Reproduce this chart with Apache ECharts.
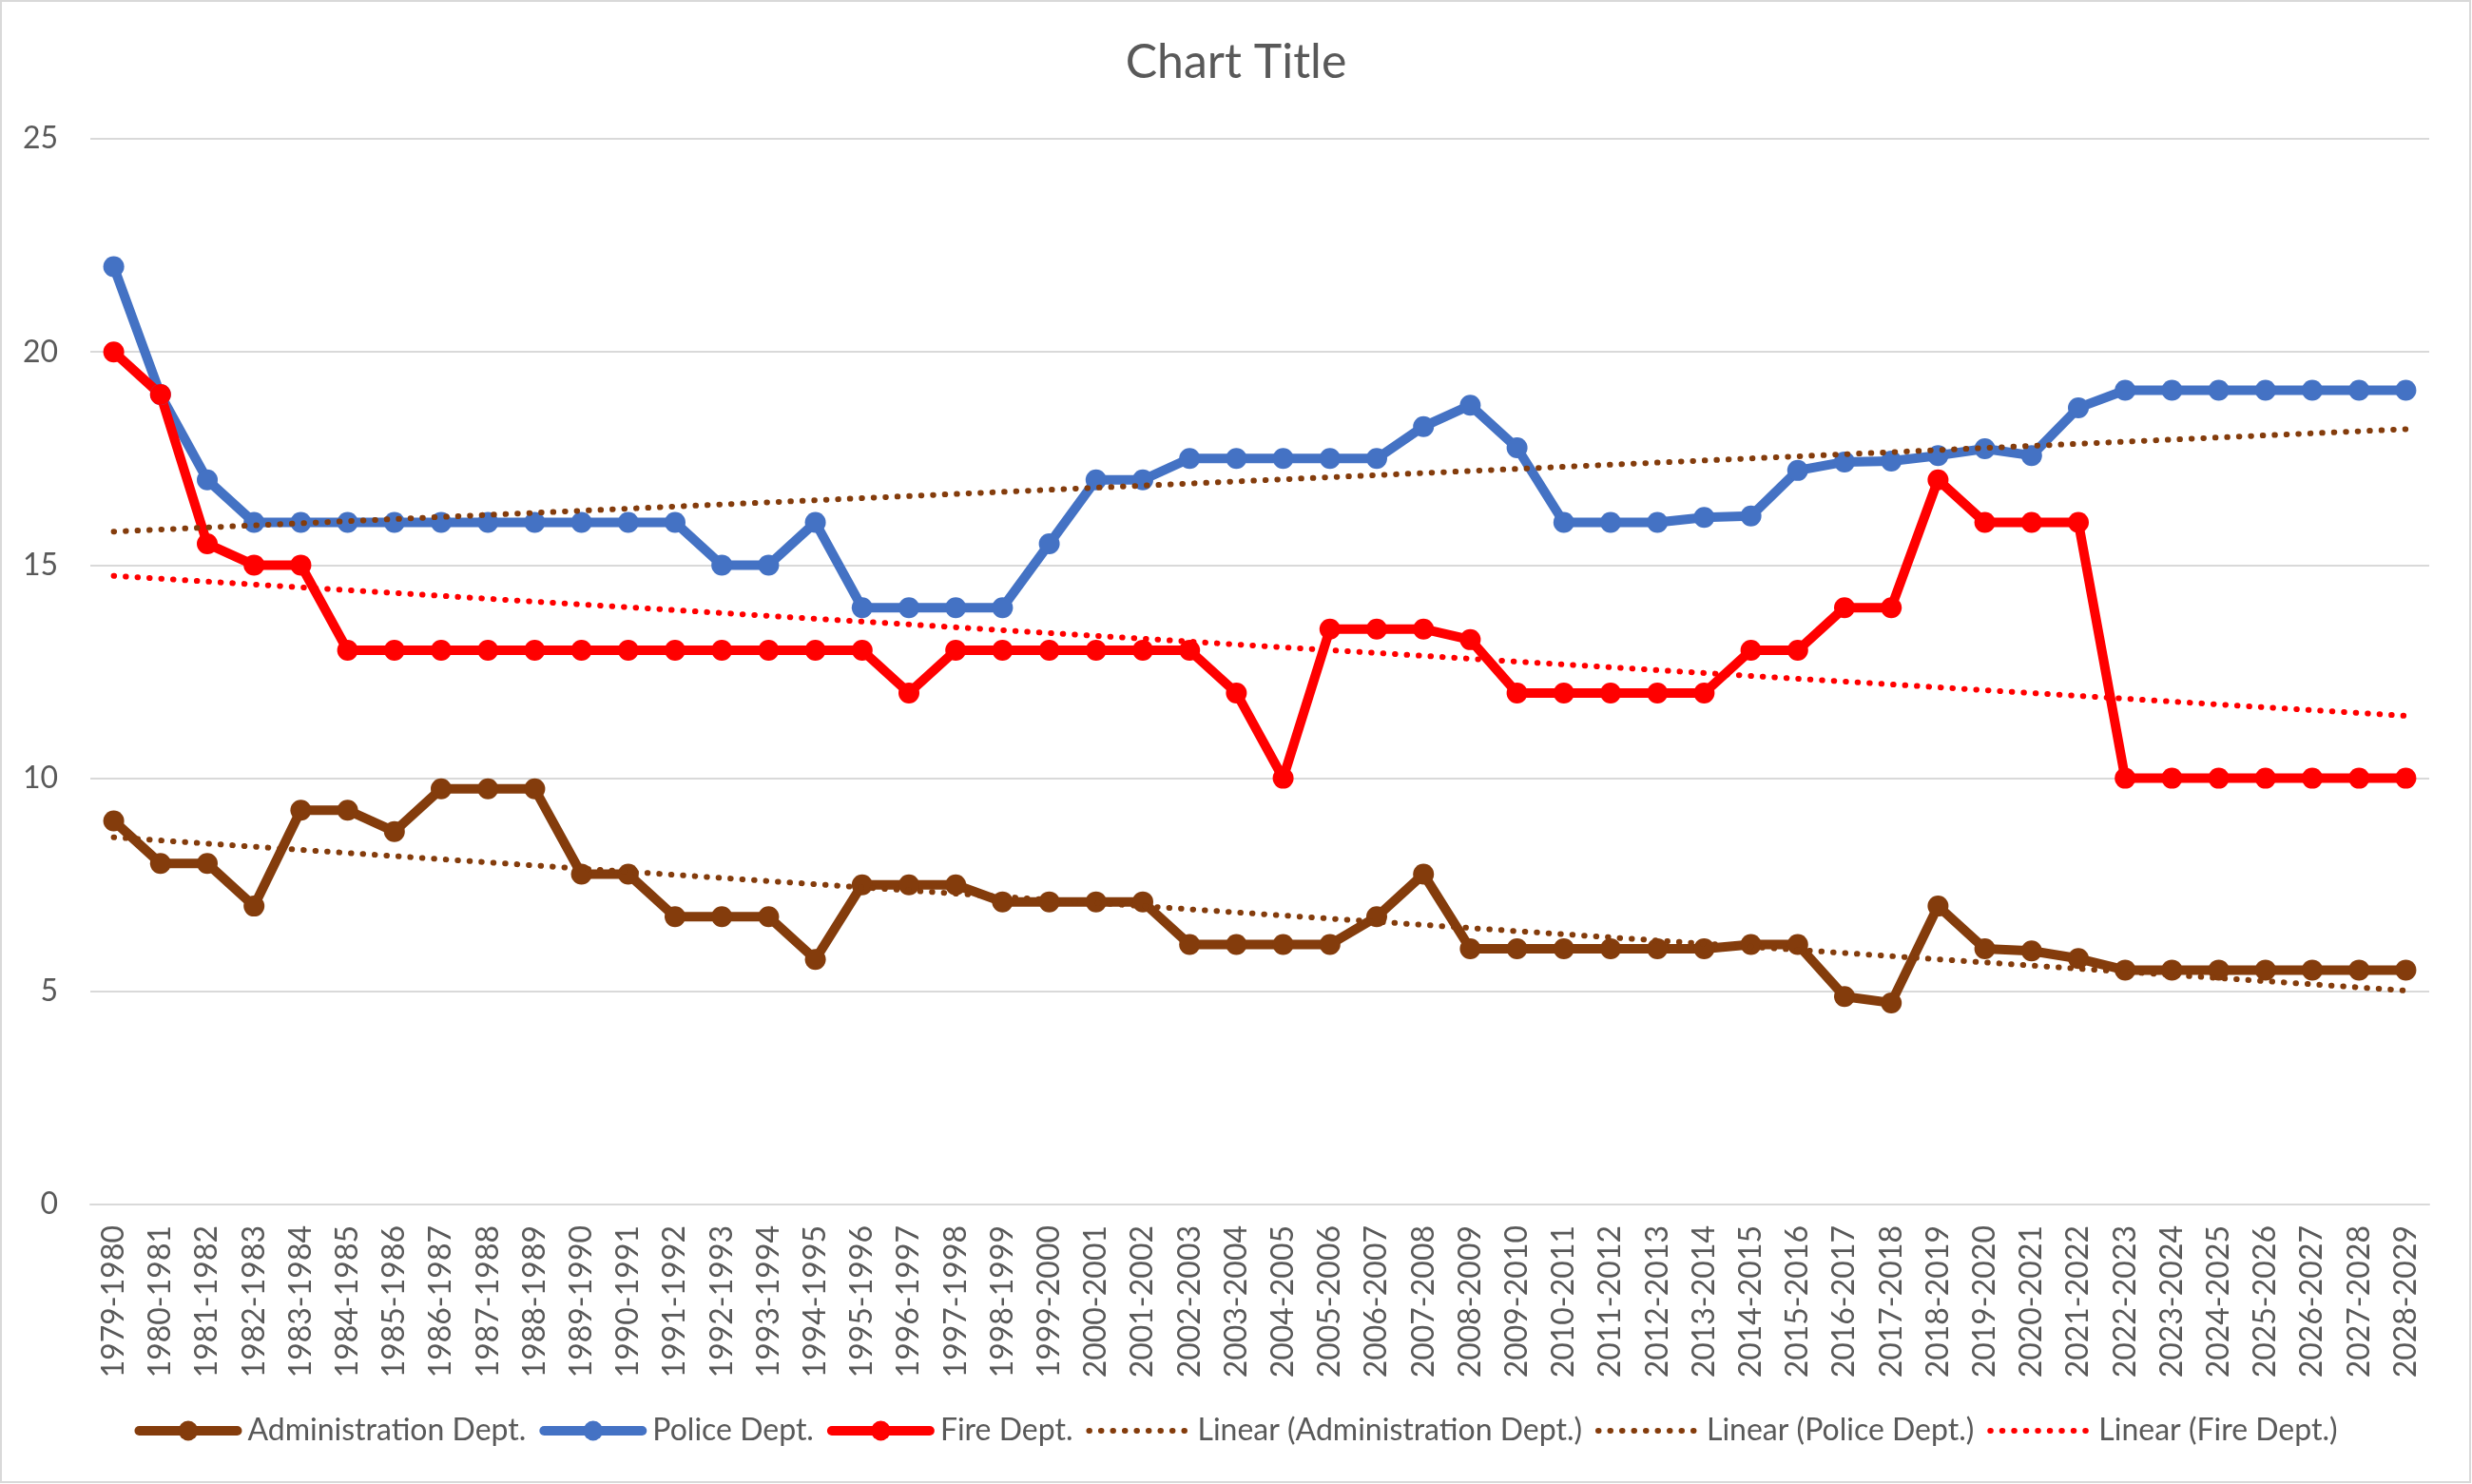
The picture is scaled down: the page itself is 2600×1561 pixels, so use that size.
<!DOCTYPE html>
<html>
<head>
<meta charset="utf-8">
<script src="https://cdn.jsdelivr.net/npm/echarts@6/dist/echarts.min.js"></script>
<style>
html,body{margin:0;padding:0;background:#fff;}
#chart{width:2600px;height:1561px;}
</style>
</head>
<body>
<div id="chart"></div>
<script>
const categories = ["1979-1980","1980-1981","1981-1982","1982-1983","1983-1984","1984-1985","1985-1986","1986-1987","1987-1988","1988-1989","1989-1990","1990-1991","1991-1992","1992-1993","1993-1994","1994-1995","1995-1996","1996-1997","1997-1998","1998-1999","1999-2000","2000-2001","2001-2002","2002-2003","2003-2004","2004-2005","2005-2006","2006-2007","2007-2008","2008-2009","2009-2010","2010-2011","2011-2012","2012-2013","2013-2014","2014-2015","2015-2016","2016-2017","2017-2018","2018-2019","2019-2020","2020-2021","2021-2022","2022-2023","2023-2024","2024-2025","2025-2026","2026-2027","2027-2028","2028-2029"];

const adminValues = [9,8,8,7,9.25,9.25,8.75,9.75,9.75,9.75,7.75,7.75,6.75,6.75,6.75,5.75,7.5,7.5,7.5,7.1,7.1,7.1,7.1,6.1,6.1,6.1,6.1,6.75,7.75,6,6,6,6,6,6,6.1,6.1,4.88,4.73,7,6,5.95,5.77,5.5,5.5,5.5,5.5,5.5,5.5,5.5];

const policeValues = [22,19,17,16,16,16,16,16,16,16,16,16,16,15,15,16,14,14,14,14,15.5,17,17,17.5,17.5,17.5,17.5,17.5,18.25,18.75,17.75,16,16,16,16.12,16.15,17.22,17.42,17.44,17.57,17.73,17.57,18.69,19.1,19.1,19.1,19.1,19.1,19.1,19.1];

const fireValues = [20,19,15.5,15,15,13,13,13,13,13,13,13,13,13,13,13,13,12,13,13,13,13,13,13,12,10,13.5,13.5,13.5,13.25,12,12,12,12,12,13,13,14,14,17,16,16,16,10,10,10,10,10,10,10];

const yTicks = {min: 0, max: 25, interval: 5};

const seriesNames = ["Administration Dept.","Police Dept.","Fire Dept.","Linear (Administration Dept.)","Linear (Police Dept.)","Linear (Fire Dept.)"];

function linearTrend(vals){
  const n = vals.length;
  let sx=0, sy=0, sxy=0, sxx=0;
  for(let i=0;i<n;i++){ const x=i+1; sx+=x; sy+=vals[i]; sxy+=x*vals[i]; sxx+=x*x; }
  const b = (n*sxy - sx*sy)/(n*sxx - sx*sx);
  const a = (sy - b*sx)/n;
  return vals.map((v,i)=> +(a + b*(i+1)).toFixed(4));
}

const BROWN = '#843C0C', BLUE = '#4472C4', RED = '#FF0000';
const FONT = 'Lato';
const TXT = '#595959';
const DOTS = [0.5,12];

function mainSeries(name, data, color){
  return {
    name, type:'line', data,
    symbol:'circle', symbolSize:22,
    itemStyle:{color},
    lineStyle:{color, width:10, cap:'round', join:'round'},
    emphasis:{disabled:true},
    animation:false
  };
}
function trendSeries(name, data, color){
  return {
    name, type:'line', data,
    symbol:'none', showSymbol:false,
    itemStyle:{color},
    lineStyle:{color, width:6, type:DOTS, cap:'round'},
    z:5,
    emphasis:{disabled:true},
    animation:false
  };
}

const legendData = seriesNames.map((name, i) => i < 3
  ? {name, lineStyle:{width:10, cap:'round'}}
  : {name, lineStyle:{width:6, type:DOTS, cap:'round'}, itemStyle:{color:'rgba(0,0,0,0)', opacity:0, borderWidth:0}});

const chart = echarts.init(document.getElementById('chart'), null, {renderer:'canvas'});
chart.setOption({
  backgroundColor:'#ffffff',
  animation:false,
  title:{
    text:'Chart Title', left:'center', top:36,
    textStyle:{fontFamily:FONT, fontSize:50, fontWeight:'normal', color:TXT}
  },
  graphic:[{
    type:'rect', shape:{x:1, y:1, width:2597, height:1558},
    style:{fill:'none', stroke:'#d9d9d9', lineWidth:2}, silent:true, z:-1
  }],
  legend:{
    data:legendData, top:1484, left:'center',
    itemWidth:103, itemHeight:26, itemGap:14,
    textStyle:{fontFamily:FONT, fontSize:32, color:TXT, padding:[0,0,0,6]},
    selectedMode:false
  },
  grid:{left:95, right:45, top:146, bottom:294, containLabel:false},
  xAxis:{
    type:'category', data:categories, boundaryGap:true,
    axisLine:{show:true, lineStyle:{color:'#d9d9d9', width:2}},
    axisTick:{show:false},
    axisLabel:{rotate:90, interval:0, margin:22, fontFamily:FONT, fontSize:32, color:TXT}
  },
  yAxis:{
    type:'value', min:yTicks.min, max:yTicks.max, interval:yTicks.interval,
    axisLine:{show:false}, axisTick:{show:false},
    splitLine:{lineStyle:{color:'#d9d9d9', width:2}},
    axisLabel:{margin:34, fontFamily:FONT, fontSize:32, color:TXT}
  },
  series:[
    mainSeries(seriesNames[0], adminValues, BROWN),
    mainSeries(seriesNames[1], policeValues, BLUE),
    mainSeries(seriesNames[2], fireValues, RED),
    trendSeries(seriesNames[3], linearTrend(adminValues), BROWN),
    trendSeries(seriesNames[4], linearTrend(policeValues), BROWN),
    trendSeries(seriesNames[5], linearTrend(fireValues), RED)
  ]
});
</script>
</body>
</html>
